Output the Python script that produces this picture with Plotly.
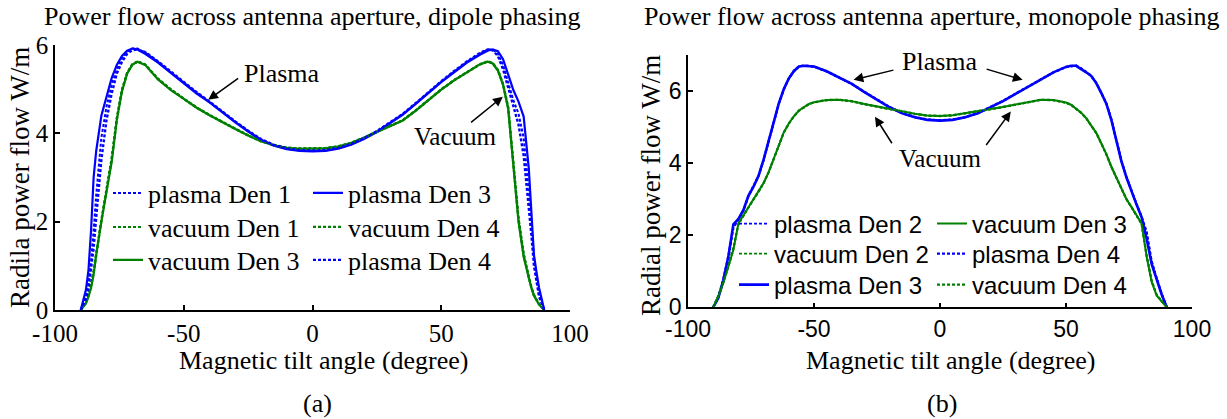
import plotly.graph_objects as go

# ---------------- data: left panel (dipole phasing) ----------------
x_left = [-90, -88, -87, -86, -85, -84, -82, -80, -78, -76, -74, -72, -70, -68, -65, -60, -55, -50,
          -45, -40, -35, -30, -25, -20, -15, -10, -5, 0, 5, 10, 15, 20, 25, 30, 35, 40, 45, 50,
          55, 60, 65, 68, 70, 72, 74, 76, 78, 80, 82, 84, 85, 86, 87, 88, 90]

plasma_den1_L = [0, 0.3, 0.6, 1.1, 1.8, 2.6, 3.9, 4.6, 5.1, 5.45, 5.7, 5.85, 5.92, 5.92, 5.83, 5.62,
                 5.38, 5.14, 4.92, 4.71, 4.48, 4.26, 4.05, 3.86, 3.73, 3.65, 3.61, 3.6, 3.61, 3.66,
                 3.75, 3.88, 4.04, 4.23, 4.43, 4.67, 4.93, 5.17, 5.4, 5.62, 5.8, 5.9, 5.9, 5.8, 5.55,
                 5.15, 4.75, 4.45, 3.9, 2.7, 1.9, 1.2, 0.7, 0.35, 0]
plasma_den3_L = [0, 0.45, 0.9, 1.8, 3.0, 3.6, 4.4, 4.85, 5.25, 5.55, 5.75, 5.87, 5.92, 5.9, 5.8, 5.6,
                 5.36, 5.12, 4.9, 4.7, 4.47, 4.25, 4.04, 3.85, 3.72, 3.64, 3.6, 3.59, 3.6, 3.65,
                 3.74, 3.87, 4.03, 4.22, 4.42, 4.66, 4.92, 5.16, 5.38, 5.6, 5.78, 5.87, 5.9, 5.86,
                 5.68, 5.32, 4.98, 4.72, 4.38, 3.2, 2.3, 1.25, 0.85, 0.5, 0]
plasma_den4_L = [0, 0.25, 0.5, 0.9, 1.4, 2.1, 3.4, 4.3, 4.9, 5.35, 5.62, 5.8, 5.88, 5.9, 5.84, 5.63,
                 5.39, 5.15, 4.93, 4.72, 4.49, 4.27, 4.06, 3.87, 3.74, 3.66, 3.62, 3.61, 3.62, 3.67,
                 3.76, 3.89, 4.05, 4.24, 4.44, 4.68, 4.94, 5.18, 5.41, 5.63, 5.82, 5.9, 5.88, 5.75,
                 5.45, 5.05, 4.6, 4.2, 3.5, 2.4, 1.7, 1.0, 0.6, 0.3, 0]
vacuum_den1_L = [0, 0.18, 0.35, 0.6, 0.9, 1.3, 2.0, 2.75, 3.45, 4.35, 5.0, 5.37, 5.56, 5.62, 5.56,
                 5.24, 5.0, 4.79, 4.59, 4.42, 4.26, 4.11, 3.96, 3.83, 3.74, 3.68, 3.66, 3.66, 3.67,
                 3.71, 3.79, 3.91, 4.04, 4.16, 4.3, 4.52, 4.77, 5.0, 5.21, 5.39, 5.57, 5.62, 5.59,
                 5.44, 5.12, 4.6, 3.4, 2.1, 1.3, 0.72, 0.52, 0.35, 0.24, 0.14, 0]
vacuum_den3_L = [0, 0.15, 0.3, 0.5, 0.8, 1.25, 2.0, 2.7, 3.35, 4.3, 4.95, 5.35, 5.55, 5.62, 5.55,
                 5.22, 4.98, 4.78, 4.58, 4.41, 4.25, 4.1, 3.95, 3.82, 3.73, 3.67, 3.65, 3.65, 3.66,
                 3.7, 3.78, 3.9, 4.03, 4.15, 4.29, 4.51, 4.76, 4.99, 5.2, 5.38, 5.56, 5.62, 5.58,
                 5.42, 5.1, 4.55, 3.3, 2.0, 1.2, 0.7, 0.5, 0.32, 0.22, 0.12, 0]
vacuum_den4_L = [0, 0.16, 0.32, 0.55, 0.85, 1.28, 2.02, 2.72, 3.4, 4.32, 4.97, 5.36, 5.56, 5.63, 5.56,
                 5.23, 4.99, 4.78, 4.58, 4.41, 4.25, 4.1, 3.95, 3.82, 3.73, 3.67, 3.65, 3.65, 3.66,
                 3.7, 3.78, 3.9, 4.03, 4.15, 4.29, 4.51, 4.76, 4.99, 5.2, 5.38, 5.56, 5.63, 5.59,
                 5.43, 5.11, 4.58, 3.35, 2.05, 1.25, 0.71, 0.51, 0.33, 0.23, 0.13, 0]

# ---------------- data: right panel (monopole phasing) ----------------
x_right = [-90, -88, -86, -84, -82, -80, -78, -76, -74, -72, -70, -68, -66, -64, -62, -60, -58, -56,
           -54, -52, -50, -45, -40, -35, -30, -25, -20, -15, -10, -5, 0, 5, 10, 15, 20, 25, 30, 35,
           40, 45, 50, 52, 54, 56, 58, 60, 62, 64, 66, 68, 70, 72, 74, 76, 78, 80, 82, 84, 86, 88, 90]

plasma_den2_R = [0, 0.3, 0.8, 1.45, 2.25, 2.42, 2.68, 3.08, 3.34, 3.64, 4.08, 4.58, 5.08, 5.63, 6.04,
                 6.34, 6.55, 6.67, 6.7, 6.69, 6.67, 6.54, 6.37, 6.19, 5.97, 5.76, 5.55, 5.38, 5.27,
                 5.21, 5.19, 5.21, 5.27, 5.38, 5.55, 5.72, 5.92, 6.12, 6.33, 6.51, 6.66, 6.69, 6.7,
                 6.63, 6.53, 6.42, 6.23, 5.96, 5.66, 5.22, 4.62, 4.07, 3.62, 3.22, 2.86, 2.5, 2.05,
                 1.3, 0.8, 0.38, 0]
plasma_den3_R = [0, 0.25, 0.75, 1.4, 2.3, 2.45, 2.7, 3.1, 3.35, 3.65, 4.1, 4.6, 5.1, 5.65, 6.05,
                 6.35, 6.55, 6.68, 6.7, 6.7, 6.68, 6.55, 6.38, 6.2, 5.97, 5.76, 5.55, 5.38, 5.27,
                 5.2, 5.18, 5.2, 5.27, 5.38, 5.55, 5.72, 5.92, 6.12, 6.33, 6.52, 6.67, 6.7, 6.7,
                 6.62, 6.52, 6.42, 6.22, 5.95, 5.65, 5.2, 4.6, 4.05, 3.6, 3.2, 2.85, 2.5, 1.9,
                 1.2, 0.75, 0.35, 0]
plasma_den4_R = [0, 0.28, 0.72, 1.35, 2.2, 2.44, 2.69, 3.09, 3.35, 3.65, 4.09, 4.59, 5.09, 5.64, 6.05,
                 6.35, 6.56, 6.68, 6.71, 6.7, 6.68, 6.55, 6.38, 6.2, 5.98, 5.77, 5.56, 5.39, 5.28,
                 5.21, 5.19, 5.21, 5.28, 5.39, 5.56, 5.73, 5.93, 6.13, 6.34, 6.52, 6.67, 6.7, 6.71,
                 6.63, 6.53, 6.43, 6.23, 5.96, 5.66, 5.21, 4.61, 4.06, 3.61, 3.21, 2.86, 2.52, 2.1,
                 1.25, 0.78, 0.36, 0]
vacuum_den2_R = [0, 0.32, 0.7, 1.15, 1.65, 2.3, 2.54, 2.77, 2.99, 3.19, 3.44, 3.74, 4.09, 4.49, 4.84,
                 5.09, 5.29, 5.45, 5.55, 5.63, 5.68, 5.74, 5.75, 5.71, 5.63, 5.56, 5.49, 5.42, 5.36,
                 5.31, 5.3, 5.32, 5.37, 5.43, 5.49, 5.55, 5.62, 5.69, 5.75, 5.74, 5.67, 5.61, 5.51,
                 5.39, 5.24, 5.04, 4.83, 4.54, 4.24, 3.89, 3.59, 3.27, 2.99, 2.77, 2.54, 2.3, 1.45,
                 0.75, 0.35, 0.17, 0]
vacuum_den3_R = [0, 0.3, 0.67, 1.1, 1.59, 2.33, 2.55, 2.78, 3.0, 3.2, 3.45, 3.75, 4.1, 4.5, 4.85,
                 5.1, 5.3, 5.46, 5.56, 5.64, 5.69, 5.75, 5.76, 5.72, 5.64, 5.57, 5.5, 5.43, 5.37,
                 5.32, 5.31, 5.33, 5.38, 5.44, 5.5, 5.56, 5.63, 5.7, 5.76, 5.75, 5.68, 5.62, 5.52,
                 5.4, 5.25, 5.05, 4.84, 4.55, 4.25, 3.9, 3.6, 3.28, 3.0, 2.78, 2.55, 2.33, 1.4,
                 0.7, 0.32, 0.15, 0]
vacuum_den4_R = [0, 0.31, 0.69, 1.12, 1.62, 2.31, 2.55, 2.78, 3.0, 3.2, 3.45, 3.75, 4.1, 4.5, 4.85,
                 5.1, 5.3, 5.46, 5.56, 5.64, 5.69, 5.75, 5.76, 5.72, 5.64, 5.57, 5.5, 5.43, 5.37,
                 5.32, 5.31, 5.33, 5.38, 5.44, 5.5, 5.56, 5.63, 5.7, 5.76, 5.75, 5.68, 5.62, 5.52,
                 5.4, 5.25, 5.05, 4.84, 4.55, 4.25, 3.9, 3.6, 3.28, 3.0, 2.78, 2.55, 2.32, 1.43,
                 0.72, 0.34, 0.16, 0]

x_tickvals = [-100, -50, 0, 50, 100]
x_ticktext = ["-100", "-50", "0", "50", "100"]
yL_tickvals = [0, 2, 4, 6]
yR_tickvals = [0, 2, 4, 6]

BLUE = "#0000FF"
GREEN = "#008000"
SERIF = "Liberation Serif, Times New Roman, serif"
SANS = "Liberation Sans, Arial, sans-serif"
DOT = "3px,2px"

W, H = 1227, 419


def px(v):
    return v / W


def py(v):
    return (H - v) / H


fig = go.Figure()
legends = {}
leg_count = [0]


def add(x, y, name, color, dash, width, xa, ya, lx, ly, font, size):
    leg_count[0] += 1
    key = "legend" if leg_count[0] == 1 else "legend%d" % leg_count[0]
    legends[key] = dict(x=px(lx), y=py(ly), xanchor="left", yanchor="middle",
                        bgcolor="rgba(0,0,0,0)", borderwidth=0,
                        font=dict(family=font, size=size, color="black"))
    fig.add_trace(go.Scatter(x=x, y=y, name=name, mode="lines",
                             line=dict(color=color, dash=dash, width=width),
                             xaxis=xa, yaxis=ya, legend=key))


# left panel traces (legend: two columns x three rows)
add(x_left, plasma_den1_L, "plasma Den 1", BLUE, DOT, 2, "x", "y", 108, 193, SERIF, 26)
add(x_left, vacuum_den1_L, "vacuum Den 1", GREEN, DOT, 2, "x", "y", 108, 227, SERIF, 26)
add(x_left, vacuum_den3_L, "vacuum Den 3", GREEN, "solid", 2.2, "x", "y", 108, 260, SERIF, 26)
add(x_left, plasma_den3_L, "plasma Den 3", BLUE, "solid", 2.2, "x", "y", 308, 193, SERIF, 26)
add(x_left, vacuum_den4_L, "vacuum Den 4", GREEN, DOT, 2.4, "x", "y", 308, 227, SERIF, 26)
add(x_left, plasma_den4_L, "plasma Den 4", BLUE, DOT, 2.4, "x", "y", 308, 260, SERIF, 26)

# right panel traces
add(x_right, plasma_den2_R, "plasma Den 2", BLUE, DOT, 1.8, "x2", "y2", 734, 224, SANS, 24)
add(x_right, vacuum_den2_R, "vacuum Den 2", GREEN, DOT, 1.8, "x2", "y2", 734, 254, SANS, 24)
add(x_right, plasma_den3_R, "plasma Den 3", BLUE, "solid", 2.6, "x2", "y2", 734, 285, SANS, 24)
add(x_right, vacuum_den3_R, "vacuum Den 3", GREEN, "solid", 2, "x2", "y2", 932, 224, SANS, 24)
add(x_right, plasma_den4_R, "plasma Den 4", BLUE, DOT, 2.2, "x2", "y2", 932, 254, SANS, 24)
add(x_right, vacuum_den4_R, "vacuum Den 4", GREEN, DOT, 2.2, "x2", "y2", 932, 285, SANS, 24)

axis_common = dict(showline=True, linecolor="black", linewidth=1.5, ticks="inside",
                   ticklen=5, tickwidth=1.5, tickcolor="black", showgrid=False,
                   zeroline=False, mirror=False, automargin=False)

fig.update_layout(
    width=W, height=H, margin=dict(l=0, r=0, t=0, b=0, autoexpand=False),
    paper_bgcolor="white", plot_bgcolor="white", showlegend=True,
    xaxis=dict(domain=[px(55), px(570)], range=[-100, 100], tickvals=x_tickvals,
               ticktext=x_ticktext, anchor="y",
               tickfont=dict(family=SERIF, size=25, color="black"), **axis_common),
    yaxis=dict(domain=[py(310), py(45)], range=[0, 6], tickvals=yL_tickvals, anchor="x",
               tickfont=dict(family=SERIF, size=25, color="black"), **axis_common),
    xaxis2=dict(domain=[px(688), px(1192)], range=[-100, 100], tickvals=x_tickvals,
                ticktext=x_ticktext, anchor="y2",
                tickfont=dict(family=SANS, size=23, color="black"), **axis_common),
    yaxis2=dict(domain=[py(307.3), py(55)], range=[0, 7], tickvals=yR_tickvals, anchor="x2",
                tickfont=dict(family=SANS, size=23, color="black"), **axis_common),
    **legends,
)

ann = []


def text(x, y, s, font, size, angle=0, xref="paper", yref="paper"):
    ann.append(dict(x=x, y=y, xref=xref, yref=yref, text=s, showarrow=False,
                    textangle=angle, xanchor="center", yanchor="middle",
                    font=dict(family=font, size=size, color="black")))


# titles, axis labels, panel letters
text(px(312), py(16), "Power flow across antenna aperture, dipole phasing", SERIF, 26)
text(px(931), py(16), "Power flow across antenna aperture, monopole phasing", SERIF, 26)
text(px(323), py(360), "Magnetic tilt angle (degree)", SERIF, 26)
text(px(950), py(360), "Magnetic tilt angle (degree)", SERIF, 26)
text(px(20), py(178), "Radila power flow W/m", SERIF, 27, angle=-90)
text(px(651), py(185), "Radial power flow W/m", SERIF, 27, angle=-90)
text(px(317), py(403), "(a)", SERIF, 26)
text(px(942), py(403), "(b)", SERIF, 26)

# in-plot labels
text(-12, 5.36, "Plasma", SERIF, 26, xref="x", yref="y")
text(55.4, 3.92, "Vacuum", SERIF, 25, xref="x", yref="y")
text(0, 6.82, "Plasma", SERIF, 26, xref="x2", yref="y2")
text(0, 4.14, "Vacuum", SERIF, 25, xref="x2", yref="y2")


def arrow(x0, y0, x1, y1, xr, yr):
    ann.append(dict(x=x1, y=y1, ax=x0, ay=y0, xref=xr, yref=yr, axref=xr, ayref=yr,
                    text="", showarrow=True, arrowhead=2, arrowsize=1.3,
                    arrowwidth=1.5, arrowcolor="black"))


arrow(-28.3, 5.27, -40.5, 4.76, "x", "y")
arrow(61, 4.22, 73.9, 4.83, "x", "y")
arrow(-17.9, 6.59, -34.3, 6.31, "x2", "y2")
arrow(17.9, 6.62, 32.8, 6.31, "x2", "y2")
arrow(-18.7, 4.51, -25.8, 5.29, "x2", "y2")
arrow(17.9, 4.46, 28.1, 5.43, "x2", "y2")

fig.update_layout(annotations=ann)
# remove the browser's default 8px page margin so the figure sits at the window's corner
fig.write_html("out.html", config={"displayModeBar": False},
               post_script="document.body.style.margin='0px';")
